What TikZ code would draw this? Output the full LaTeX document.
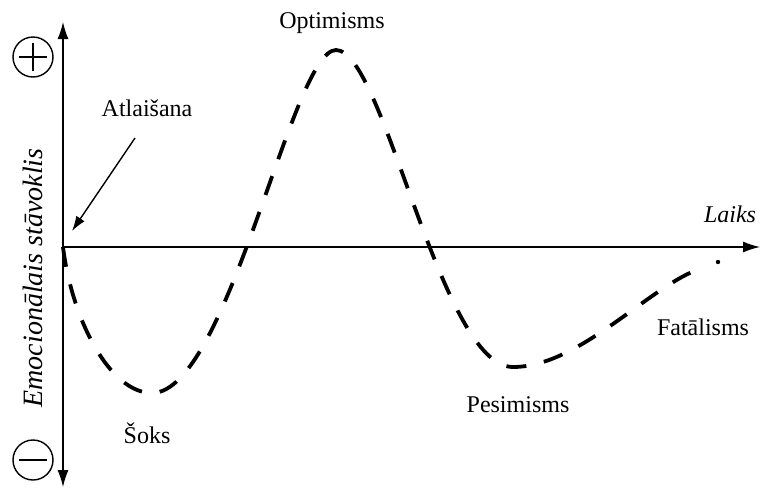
\documentclass[tikz,border=0pt]{standalone}
\usepackage{fontspec}
\setmainfont{Liberation Serif}
\usetikzlibrary{arrows.meta}
\begin{document}
\begin{tikzpicture}[x=1pt,y=-1pt,
  axis/.style={line width=1.4pt,-{Latex[length=17pt,width=11pt]}},
  lbl/.style={inner sep=0pt,font=\fontsize{24}{26}\selectfont},
  sign/.style={circle,draw,line width=1.4pt,minimum size=40pt,inner sep=0pt},
  curve/.style={line width=3.8pt,dash pattern=on 20pt off 18pt},
  pointer/.style={line width=1.4pt,-{Latex[length=15pt,width=10pt]}}]
\useasboundingbox (0,0) rectangle (761,488);
% axes
\coordinate (O) at (63,247);
\coordinate (Ytop) at (63,22);
\coordinate (Ybot) at (63,487);
\coordinate (Xend) at (760,247);
\draw[axis] (O) -- (Ytop);
\draw[axis] (O) -- (Ybot);
\draw[axis] (O) -- (Xend);
% signs
\node[sign] (plus) at (33,57) {};
\draw[line width=1.4pt] ([xshift=-14pt]plus.center) -- ([xshift=14pt]plus.center)
  ([yshift=-14pt]plus.center) -- ([yshift=14pt]plus.center);
\node[sign] (minus) at (33,460) {};
\draw[line width=1.4pt] ([xshift=-14pt]minus.center) -- ([xshift=14pt]minus.center);
% labels
\node[lbl,font=\fontsize{28}{30}\selectfont\itshape,rotate=90] (ylab) at (33,278) {Emocionālais stāvoklis};
\node[lbl,font=\fontsize{24}{26}\selectfont\itshape] (laiks) at (730,214) {Laiks};
\node[lbl] (atl) at (147,108) {Atlaišana};
\node[lbl] (opt) at (332,23) {Optimisms};
\node[lbl] (soks) at (147,433) {Šoks};
\node[lbl] (pes) at (518,405) {Pesimisms};
\node[lbl] (fat) at (703,327) {Fatālisms};
% pointer
\coordinate (atlstart) at (135,138);
\coordinate (atlend) at (72,231);
\draw[pointer] (atlstart) -- (atlend);
% curve
\coordinate (c0) at (63,247);
\coordinate (m1) at (152,393);
\coordinate (p1) at (336,50);
\coordinate (m2) at (513,367);
\coordinate (c1) at (702,268);
\coordinate (dot) at (718,262);
\draw[curve] (c0) .. controls (72,320) and (110,393) .. (m1)
  .. controls (228,393) and (292,50) .. (p1)
  .. controls (384,50) and (440,367) .. (m2)
  .. controls (580,367) and (650,285) .. (c1);
\fill (dot) circle (2.2pt);
\end{tikzpicture}
\end{document}
